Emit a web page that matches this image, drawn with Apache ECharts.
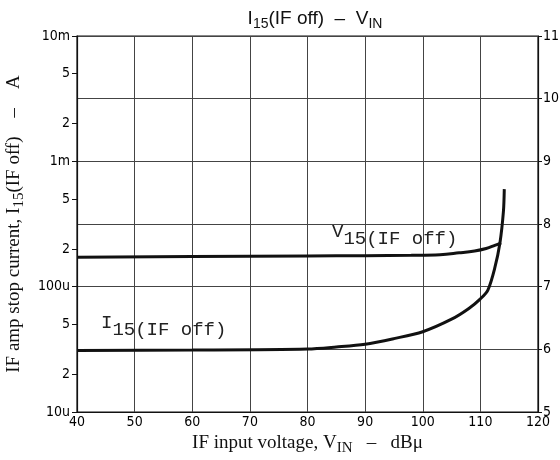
<!DOCTYPE html>
<html>
<head>
<meta charset="utf-8">
<script src="https://cdn.jsdelivr.net/npm/echarts@6/dist/echarts.min.js"></script>
<style>
  html, body { margin: 0; padding: 0; background: #fff; }
  #chart { width: 560px; height: 460px; }
</style>
</head>
<body>
<div id="chart"></div>
<script>
// x axis: IF input voltage (dBu)
var xTicks = [40, 50, 60, 70, 80, 90, 100, 110, 120];

// I15(IF off) - current in A (left, log)
var iX = [40, 60, 80, 85, 90, 95, 100, 105, 108, 110, 111.3, 112.5, 113.4, 114.0, 114.15];
var iVal = [3.1e-5, 3.12e-5, 3.18e-5, 3.3e-5, 3.47e-5, 3.85e-5, 4.37e-5, 5.5e-5, 6.7e-5, 8.0e-5, 9.4e-5, 1.41e-4, 2.24e-4, 3.98e-4, 6.0e-4];

// V15(IF off) - voltage in V (right, linear)
var vX = [40, 60, 80, 90, 98, 103, 106.3, 109, 111, 112.5, 113.6];
var vVal = [7.47, 7.48, 7.49, 7.495, 7.5, 7.51, 7.54, 7.57, 7.61, 7.66, 7.70];

// left axis tick values and labels
var leftTickValues = [1e-5, 2e-5, 5e-5, 1e-4, 2e-4, 5e-4, 1e-3, 2e-3, 5e-3, 1e-2];
var leftTickLabels = ['10u', '2', '5', '100u', '2', '5', '1m', '2', '5', '10m'];

function zip(xs, ys) {
  return xs.map(function (x, i) { return [x, ys[i]]; });
}

function leftLabel(v) {
  var best = 0, bestD = Infinity;
  for (var i = 0; i < leftTickValues.length; i++) {
    var d = Math.abs(Math.log10(v) - Math.log10(leftTickValues[i]));
    if (d < bestD) { bestD = d; best = i; }
  }
  return leftTickLabels[best];
}

// subscript styles, shared by title and axis names
function subRich(family, big, small) {
  return {
    m: { fontFamily: family, fontSize: big, color: '#111', lineHeight: big + 3, verticalAlign: 'top' },
    s: { fontFamily: family, fontSize: small, color: '#111', lineHeight: small, verticalAlign: 'bottom' }
  };
}

var tickFont = { color: '#000', fontFamily: "'DejaVu Sans Condensed', 'DejaVu Sans'", fontSize: 14 };
var annoRich = {
  m: { fontFamily: 'Liberation Mono', fontSize: 19, fill: '#222', lineHeight: 26, verticalAlign: 'top' },
  s: { fontFamily: 'Liberation Mono', fontSize: 19, fill: '#222', lineHeight: 8, verticalAlign: 'bottom' }
};

var myChart = echarts.init(document.getElementById('chart'));

var option = {
  backgroundColor: '#fff',
  animation: false,
  title: {
    text: '{m|I}{s|15}{m|(IF off)  \u2013  V}{s|IN}',
    left: 310,
    textAlign: 'center',
    top: 4,
    textStyle: { fontWeight: 'normal', rich: subRich('Liberation Sans', 19, 14) }
  },
  grid: {
    left: 77, right: 22, top: 36, bottom: 48,
    outerBoundsMode: 'none',
    containLabel: false,
    show: true, borderColor: '#111', borderWidth: 1.2
  },
  xAxis: {
    type: 'value',
    min: 40, max: 120, interval: 10,
    name: '{m|IF input voltage, V}{s|IN}{m|   \u2013   dB\u03bc}',
    nameLocation: 'middle',
    nameGap: 20,
    nameTextStyle: { rich: subRich('Liberation Serif', 19, 15) },
    axisLine: { lineStyle: { color: '#111', width: 1.2 } },
    axisTick: { show: false },
    axisLabel: Object.assign({ margin: 3 }, tickFont),
    splitLine: { show: true, lineStyle: { color: '#444', width: 1 } }
  },
  yAxis: [
    {
      type: 'log',
      logBase: 10,
      min: 1e-5, max: 1e-2,
      position: 'left',
      name: '{m|IF amp stop current, I}{s|15}{m|(IF off)    \u2013    A}',
      nameLocation: 'middle',
      nameRotate: 90,
      nameGap: 50,
      nameTextStyle: { rich: subRich('Liberation Serif', 19, 15) },
      axisLine: { show: true, lineStyle: { color: '#111', width: 1.2 } },
      axisTick: { show: true, length: 5, inside: false, customValues: leftTickValues, lineStyle: { color: '#111' } },
      axisLabel: Object.assign({ margin: 7, customValues: leftTickValues, formatter: leftLabel }, tickFont),
      splitLine: { show: false },
      minorTick: { show: false },
      minorSplitLine: { show: false }
    },
    {
      type: 'value',
      min: 5, max: 11, interval: 1,
      position: 'right',
      axisLine: { show: true, lineStyle: { color: '#111', width: 1.2 } },
      axisTick: { show: true, length: 4, lineStyle: { color: '#111' } },
      axisLabel: Object.assign({ margin: 5 }, tickFont),
      splitLine: { show: true, lineStyle: { color: '#444', width: 1 } }
    }
  ],
  series: [
    {
      name: 'I15(IF off)',
      type: 'line',
      yAxisIndex: 0,
      data: zip(iX, iVal),
      smooth: 0.3,
      showSymbol: false,
      lineStyle: { color: '#111', width: 3 }
    },
    {
      name: 'V15(IF off)',
      type: 'line',
      yAxisIndex: 1,
      data: zip(vX, vVal),
      smooth: 0.4,
      showSymbol: false,
      lineStyle: { color: '#111', width: 3 }
    }
  ],
  graphic: [
    {
      type: 'text',
      left: 332, top: 222,
      style: { text: '{m|V}{s|15(IF off)}', rich: annoRich }
    },
    {
      type: 'text',
      left: 101, top: 313,
      style: { text: '{m|I}{s|15(IF off)}', rich: annoRich }
    }
  ]
};

myChart.setOption(option);
</script>
</body>
</html>
